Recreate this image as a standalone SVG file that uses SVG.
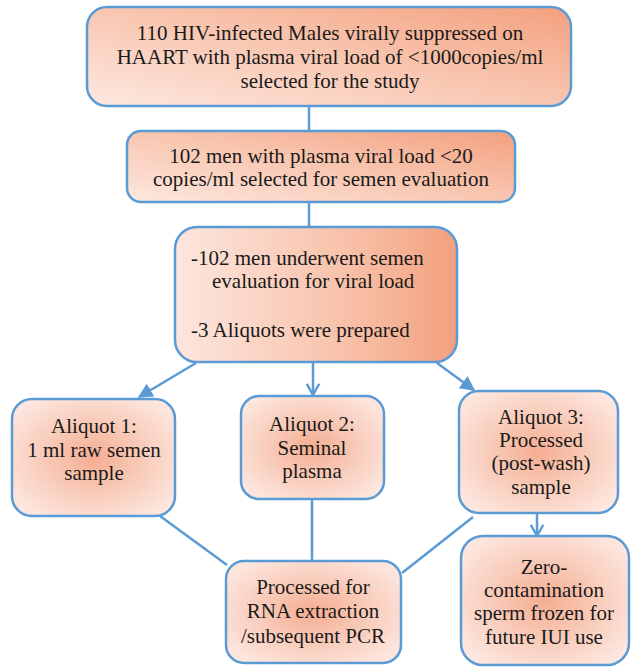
<svg xmlns="http://www.w3.org/2000/svg" width="631" height="669" viewBox="0 0 631 669">
<defs>
<linearGradient id="lin" x1="0" y1="1" x2="1" y2="0">
<stop offset="0" stop-color="#fde8e0"/>
<stop offset="0.55" stop-color="#f8c3ac"/>
<stop offset="1" stop-color="#f3a07e"/>
</linearGradient>
<linearGradient id="lin3" x1="0" y1="0" x2="1" y2="0">
<stop offset="0" stop-color="#fde6de"/>
<stop offset="0.6" stop-color="#f8c2aa"/>
<stop offset="1" stop-color="#f3a07e"/>
</linearGradient>
<radialGradient id="rad" cx="0.5" cy="0.5" r="0.6">
<stop offset="0" stop-color="#f5ad91"/>
<stop offset="0.6" stop-color="#f9d0c0"/>
<stop offset="1" stop-color="#fde6de"/>
</radialGradient>
<marker id="tri" viewBox="0 0 10 10" refX="9" refY="5" markerWidth="6" markerHeight="6" orient="auto" markerUnits="strokeWidth">
<path d="M0,0 L10,5 L0,10 z" fill="#5b9bd5"/>
</marker>
<marker id="vee" viewBox="0 0 12 12" refX="10" refY="6" markerWidth="6" markerHeight="6" orient="auto" markerUnits="strokeWidth">
<path d="M1,1 L10,6 L1,11" fill="none" stroke="#5b9bd5" stroke-width="2"/>
</marker>
</defs>
<g id="connectors" stroke="#5b9bd5" stroke-width="2.5" fill="none">
<line x1="309" y1="106" x2="309" y2="131"/>
<line x1="309" y1="202" x2="309" y2="227"/>
<line x1="196" y1="363" x2="139" y2="397" marker-end="url(#tri)"/>
<line x1="313" y1="363" x2="313" y2="395" marker-end="url(#vee)"/>
<line x1="437" y1="363" x2="474" y2="390" marker-end="url(#tri)"/>
<line x1="160" y1="516" x2="227" y2="565"/>
<line x1="312" y1="499" x2="312" y2="561"/>
<line x1="473" y1="517" x2="402" y2="573"/>
<line x1="537" y1="513" x2="537" y2="536" marker-end="url(#vee)"/>
</g>
<g id="n1">
<rect stroke="#5b9bd5" stroke-width="2.5" x="87" y="7" width="484" height="99" rx="20" fill="url(#lin)"/>
<text x="330" y="40" style="font-family:'Liberation Serif',serif;font-size:21px;fill:#1a1a1a;text-anchor:middle">110 HIV-infected Males virally suppressed on</text>
<text x="330" y="64" style="font-family:'Liberation Serif',serif;font-size:21px;fill:#1a1a1a;text-anchor:middle">HAART with plasma viral load of &lt;1000copies/ml</text>
<text x="330" y="88" style="font-family:'Liberation Serif',serif;font-size:21px;fill:#1a1a1a;text-anchor:middle">selected for the study</text>
</g>
<g id="n2">
<rect stroke="#5b9bd5" stroke-width="2.5" x="127" y="131" width="388" height="71" rx="14" fill="url(#lin)"/>
<text x="321" y="163" style="font-family:'Liberation Serif',serif;font-size:21px;fill:#1a1a1a;text-anchor:middle">102 men with plasma viral load &lt;20</text>
<text x="321" y="186" style="font-family:'Liberation Serif',serif;font-size:21px;fill:#1a1a1a;text-anchor:middle">copies/ml selected for semen evaluation</text>
</g>
<g id="n3">
<rect stroke="#5b9bd5" stroke-width="2.5" x="175" y="227" width="282" height="135" rx="22" fill="url(#lin3)"/>
<text x="191" y="265" style="font-family:'Liberation Serif',serif;font-size:21px;fill:#1a1a1a">-102 men underwent semen</text>
<text x="212" y="288" style="font-family:'Liberation Serif',serif;font-size:21px;fill:#1a1a1a">evaluation for viral load</text>
<text x="191" y="337" style="font-family:'Liberation Serif',serif;font-size:21px;fill:#1a1a1a">-3 Aliquots were prepared</text>
</g>
<g id="n4">
<rect stroke="#5b9bd5" stroke-width="2.5" x="12" y="399" width="163" height="117" rx="20" fill="url(#rad)"/>
<text x="94" y="433" style="font-family:'Liberation Serif',serif;font-size:21px;fill:#1a1a1a;text-anchor:middle">Aliquot 1:</text>
<text x="94" y="457" style="font-family:'Liberation Serif',serif;font-size:21px;fill:#1a1a1a;text-anchor:middle">1 ml raw semen</text>
<text x="94" y="480" style="font-family:'Liberation Serif',serif;font-size:21px;fill:#1a1a1a;text-anchor:middle">sample</text>
</g>
<g id="n5">
<rect stroke="#5b9bd5" stroke-width="2.5" x="241" y="396" width="143" height="103" rx="18" fill="url(#rad)"/>
<text x="312" y="431" style="font-family:'Liberation Serif',serif;font-size:21px;fill:#1a1a1a;text-anchor:middle">Aliquot 2:</text>
<text x="312" y="455" style="font-family:'Liberation Serif',serif;font-size:21px;fill:#1a1a1a;text-anchor:middle">Seminal</text>
<text x="312" y="478" style="font-family:'Liberation Serif',serif;font-size:21px;fill:#1a1a1a;text-anchor:middle">plasma</text>
</g>
<g id="n6">
<rect stroke="#5b9bd5" stroke-width="2.5" x="459" y="391" width="159" height="122" rx="20" fill="url(#rad)"/>
<text x="541" y="424" style="font-family:'Liberation Serif',serif;font-size:21px;fill:#1a1a1a;text-anchor:middle">Aliquot 3:</text>
<text x="541" y="447" style="font-family:'Liberation Serif',serif;font-size:21px;fill:#1a1a1a;text-anchor:middle">Processed</text>
<text x="541" y="470" style="font-family:'Liberation Serif',serif;font-size:21px;fill:#1a1a1a;text-anchor:middle">(post-wash)</text>
<text x="541" y="494" style="font-family:'Liberation Serif',serif;font-size:21px;fill:#1a1a1a;text-anchor:middle">sample</text>
</g>
<g id="n7">
<rect stroke="#5b9bd5" stroke-width="2.5" x="226" y="561" width="175" height="102" rx="18" fill="url(#rad)"/>
<text x="313" y="594" style="font-family:'Liberation Serif',serif;font-size:21px;fill:#1a1a1a;text-anchor:middle">Processed for</text>
<text x="313" y="618" style="font-family:'Liberation Serif',serif;font-size:21px;fill:#1a1a1a;text-anchor:middle">RNA extraction</text>
<text x="313" y="643" style="font-family:'Liberation Serif',serif;font-size:21px;fill:#1a1a1a;text-anchor:middle">/subsequent PCR</text>
</g>
<g id="n8">
<rect stroke="#5b9bd5" stroke-width="2.5" x="461" y="536" width="168" height="129" rx="22" fill="url(#rad)"/>
<text x="544" y="574" style="font-family:'Liberation Serif',serif;font-size:21px;fill:#1a1a1a;text-anchor:middle">Zero-</text>
<text x="544" y="597" style="font-family:'Liberation Serif',serif;font-size:21px;fill:#1a1a1a;text-anchor:middle">contamination</text>
<text x="544" y="620" style="font-family:'Liberation Serif',serif;font-size:21px;fill:#1a1a1a;text-anchor:middle">sperm frozen for</text>
<text x="544" y="644" style="font-family:'Liberation Serif',serif;font-size:21px;fill:#1a1a1a;text-anchor:middle">future IUI  use</text>
</g>
</svg>
